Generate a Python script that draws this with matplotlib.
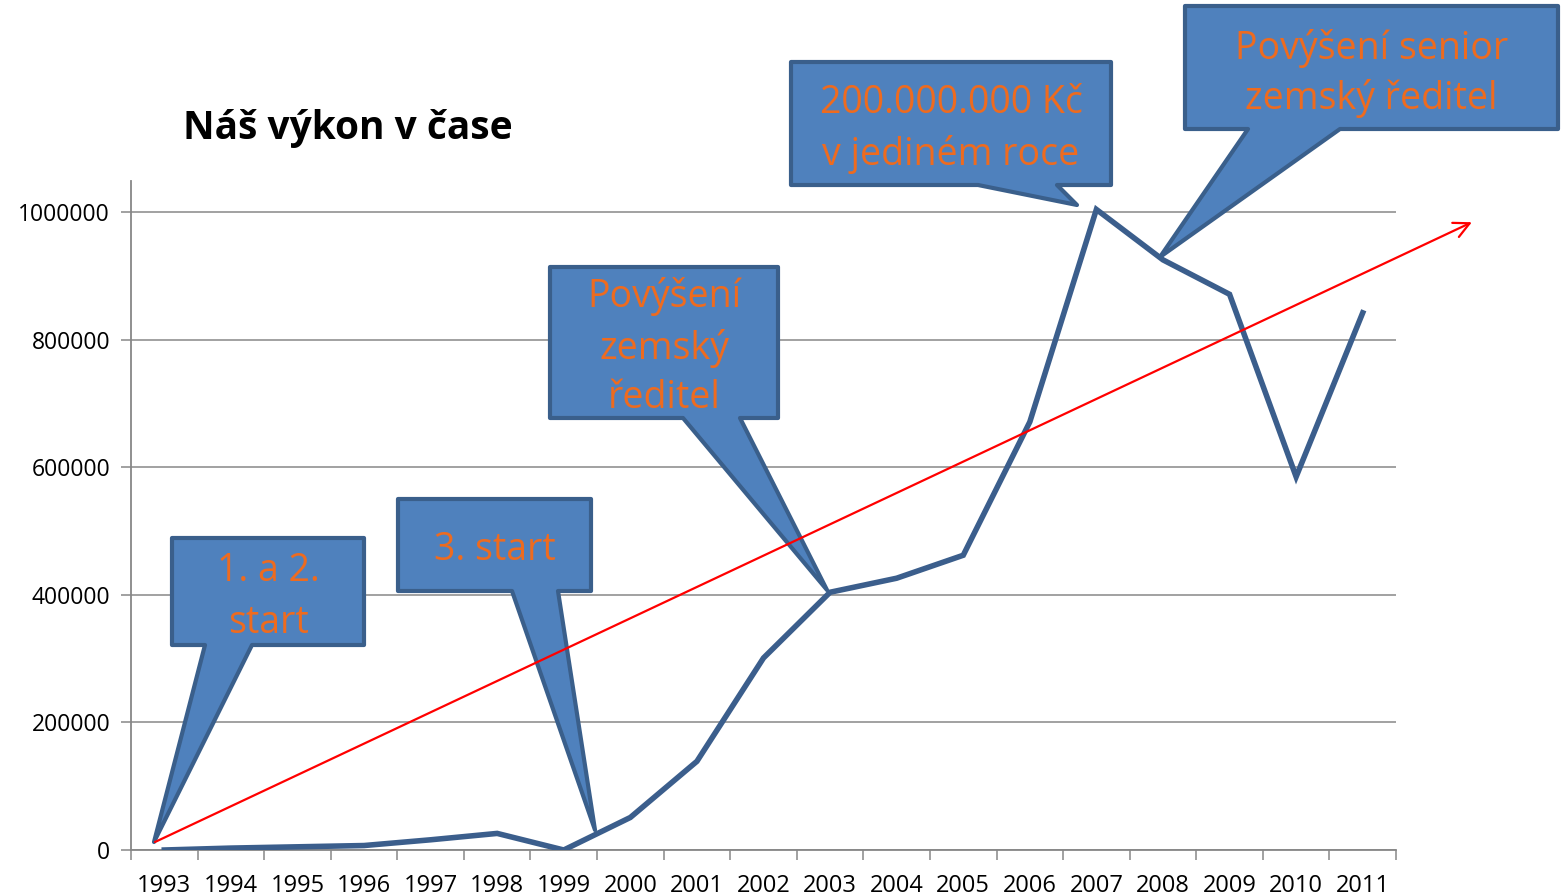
import matplotlib
matplotlib.use("Agg")
import matplotlib.pyplot as plt
from matplotlib.patches import Polygon, FancyArrowPatch
from matplotlib.ticker import FixedLocator, NullFormatter, FixedFormatter

plt.rcParams['font.family'] = ['Open Sans', 'DejaVu Sans']

# ---- data ----
years = ['1993', '1994', '1995', '1996', '1997', '1998', '1999', '2000', '2001', '2002',
         '2003', '2004', '2005', '2006', '2007', '2008', '2009', '2010', '2011']
values = [0, 3000, 5000, 7000, 16000, 26000, 0, 51000, 139000, 301000,
          404000, 426000, 462000, 671000, 1004000, 925000, 871000, 585000, 842000]
y_ticks = [0, 200000, 400000, 600000, 800000, 1000000]
title = 'Náš výkon v čase'

# trend arrow (data coordinates: category index, value)
trend_start = (-0.14, 12500)
trend_end = (19.64, 984000)

# callouts: text lines, box (left, top, right, bottom) in figure pixels (top-left origin),
# pointer base (x1, x2) on bottom edge, tip point
callout_texts = [['1. a 2.', 'start'],
                 ['3. start'],
                 ['Povýšení', 'zemský', 'ředitel'],
                 ['200.000.000 Kč', 'v jediném roce'],
                 ['Povýšení senior', 'zemský ředitel']]
callout_boxes = [(172, 538, 364, 645), (398, 499, 591, 591), (550, 267, 778, 418),
                 (791, 62, 1111, 185), (1185, 6, 1558, 129)]
callout_bases = [(205, 252), (512, 558), (683, 740), (978, 1057), (1248, 1340)]
callout_tips = [(154, 842), (595, 830), (827, 590), (1077, 205), (1160, 257)]
callout_line_y = [[571, 623], [550], [296, 348, 398], [103, 154], [48, 99]]

W, H = 1564, 896
fig = plt.figure(figsize=(W / 100, H / 100), dpi=100)
ax = fig.add_axes([131 / W, (H - 850) / H, 1265 / W, (850 - 181) / H])

line_col = '#3B5E8C'
grid_col = '#878787'
x = list(range(len(years)))
ax.plot(x, values, color=line_col, lw=4.0, solid_joinstyle='miter', zorder=3)

ax.set_xlim(-0.5, len(years) - 0.5)
ax.set_ylim(0, 1048600)
ax.set_yticks(y_ticks)
ax.set_yticklabels([str(v) for v in y_ticks])
ax.yaxis.grid(True, color=grid_col, lw=1.1)
ax.set_axisbelow(True)

ax.xaxis.set_major_locator(FixedLocator([i - 0.5 for i in range(len(years) + 1)]))
ax.xaxis.set_major_formatter(NullFormatter())
ax.xaxis.set_minor_locator(FixedLocator(x))
ax.xaxis.set_minor_formatter(FixedFormatter(years))
ax.tick_params(axis='x', which='minor', length=0, pad=17, labelsize=17)
ax.tick_params(axis='x', which='major', length=7, width=1.1, color=grid_col)
ax.tick_params(axis='y', length=7, width=1.1, color=grid_col, pad=8, labelsize=16.5)

for s in ['top', 'right']:
    ax.spines[s].set_visible(False)
for s in ['left', 'bottom']:
    ax.spines[s].set_color(grid_col)
    ax.spines[s].set_linewidth(1.3)

fig.text(183 / W, 1 - 128 / H, title, fontsize=28, fontweight='bold', va='center', ha='left')

def fp(px, py):
    return (px / W, 1 - py / H)

fill_col = '#4F81BD'
edge_col = '#3A5F8B'
text_col = '#EE6B1F'
for lines, box, base, tip, ly in zip(callout_texts, callout_boxes, callout_bases,
                                     callout_tips, callout_line_y):
    l, t, r, b = box
    pts = [fp(l, t), fp(r, t), fp(r, b), fp(base[1], b), fp(*tip), fp(base[0], b), fp(l, b)]
    poly = Polygon(pts, closed=True, facecolor=fill_col, edgecolor=edge_col, lw=3.0,
                   joinstyle='round', transform=fig.transFigure, clip_on=False, zorder=5)
    ax.add_artist(poly)
    cx = (l + r) / 2
    for txt, yy in zip(lines, ly):
        ax.text(*fp(cx, yy), txt, transform=fig.transFigure, ha='center', va='center',
                fontsize=27, color=text_col, zorder=6, clip_on=False)

arrow = FancyArrowPatch(trend_start, trend_end, arrowstyle='->', mutation_scale=28,
                        color='#FF0000', lw=1.6, transform=ax.transData, clip_on=False,
                        zorder=7, shrinkA=0, shrinkB=0)
ax.add_artist(arrow)

fig.savefig('out.png', dpi=100)
